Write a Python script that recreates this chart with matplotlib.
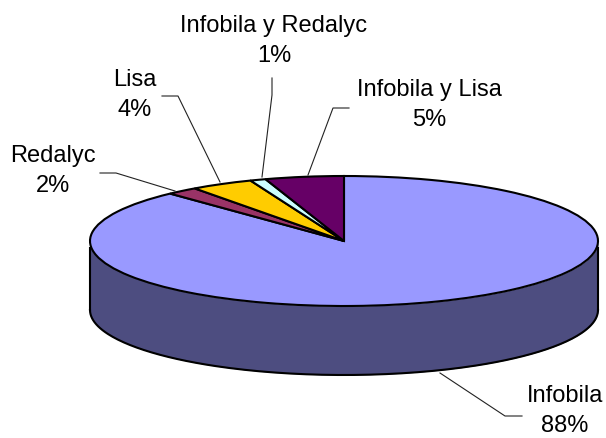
import numpy as np
import matplotlib
matplotlib.use("Agg")
import matplotlib.pyplot as plt

categories = ["Infobila", "Redalyc", "Lisa", "Infobila y Redalyc", "Infobila y Lisa"]
values = [88, 2, 4, 1, 5]
colors = ["#9999FF", "#993366", "#FFCC00", "#CCFFFF", "#660066"]
side_color = "#4D4D80"
label_centers = [(565, 411), (53, 171), (135, 95), (274, 41), (429, 105)]
leaders = [
    [(522, 416), (505, 416), (440, 373)],
    [(100, 173), (116, 173), (175, 191)],
    [(162, 96), (178, 96), (220, 182)],
    [(272, 78), (272, 95), (262, 177)],
    [(349, 108), (333, 108), (308, 175)],
]

plt.rcParams["font.family"] = ["Liberation Sans", "DejaVu Sans"]
W, H = 606, 438
CX, CY, RX, RY, DEPTH = 344, 241, 254, 65, 69

fig = plt.figure(figsize=(W / 100, H / 100), dpi=100)
ax = fig.add_axes([0, 0, 1, 1])

def to_data(px, py):
    return (px - CX) / RX, (CY - py) / RY

# Extruded side
t = np.linspace(np.pi, 2 * np.pi, 200)
d = DEPTH / RY
xs = np.cos(t)
ys = np.sin(t)
ax.fill_between(xs, ys - d, ys, color=side_color, lw=0, zorder=1)
ax.plot(xs, ys - d, color="black", lw=1.5, zorder=2)
ax.plot([-1, -1], [0 - 0.1, -d], color="black", lw=1.5, zorder=2)
ax.plot([1, 1], [0 - 0.1, -d], color="black", lw=1.5, zorder=2)

# Top face
wedges, _ = ax.pie(values, colors=colors, startangle=90, counterclock=False,
                   wedgeprops={"edgecolor": "black", "linewidth": 1.5, "zorder": 3})
for w in wedges:
    w.set_zorder(3)
ax.set_aspect("auto")
ax.set_xlim((0 - CX) / RX, (W - CX) / RX)
ax.set_ylim((CY - H) / RY, CY / RY)
ax.axis("off")

for name, val, (lx, ly), pts in zip(categories, values, label_centers, leaders):
    x, y = to_data(lx, ly)
    ax.text(x, y, f"{name}\n{val}%", ha="center", va="center", fontsize=17,
            color="black", linespacing=1.5, zorder=6)
    data_pts = np.array([to_data(*p) for p in pts])
    ax.plot(data_pts[:, 0], data_pts[:, 1], color="#222222", lw=0.8, zorder=5)

fig.savefig("out.png", dpi=100, facecolor="white")
